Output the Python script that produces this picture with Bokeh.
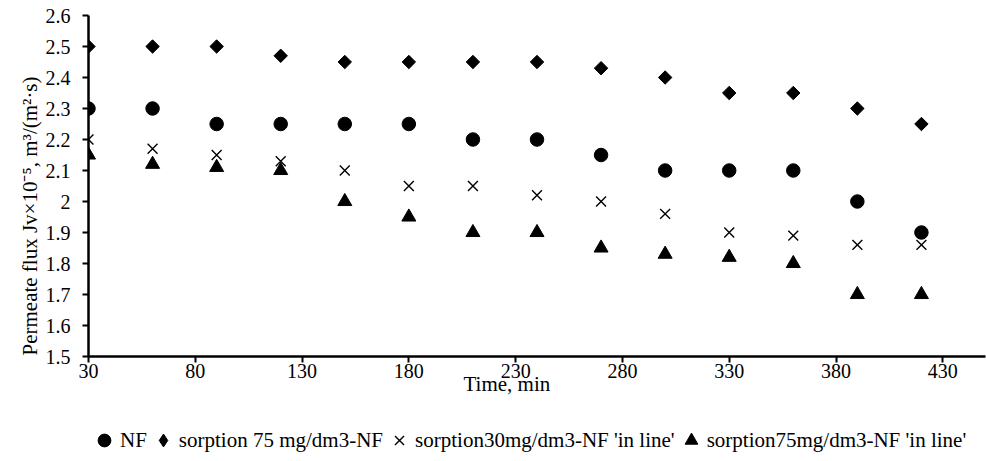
import numpy as np
from bokeh.plotting import figure
from bokeh.layouts import column
from bokeh.models import Range1d, Legend, LegendItem, FixedTicker, ColumnDataSource, Title
from bokeh.embed import file_html
from bokeh.resources import INLINE

time_min = [30, 60, 90, 120, 150, 180, 210, 240, 270, 300, 330, 360, 390, 420]
nf = [2.30, 2.30, 2.25, 2.25, 2.25, 2.25, 2.20, 2.20, 2.15, 2.10, 2.10, 2.10, 2.00, 1.90]
sorp75 = [2.50, 2.50, 2.50, 2.47, 2.45, 2.45, 2.45, 2.45, 2.43, 2.40, 2.35, 2.35, 2.30, 2.25]
sorp30_inline = [2.20, 2.17, 2.15, 2.13, 2.10, 2.05, 2.05, 2.02, 2.00, 1.96, 1.90, 1.89, 1.86, 1.86]
sorp75_inline = [2.15, 2.12, 2.11, 2.10, 2.00, 1.95, 1.90, 1.90, 1.85, 1.83, 1.82, 1.80, 1.70, 1.70]

x_ticks = [30, 80, 130, 180, 230, 280, 330, 380, 430]
y_ticks = [1.5, 1.6, 1.7, 1.8, 1.9, 2.0, 2.1, 2.2, 2.3, 2.4, 2.5, 2.6]
y_tick_labels = ["1.5", "1.6", "1.7", "1.8", "1.9", "2", "2.1", "2.2", "2.3", "2.4", "2.5", "2.6"]

labels = ["NF", "sorption 75 mg/dm3-NF", "sorption30mg/dm3-NF 'in line'", "sorption75mg/dm3-NF 'in line'"]
x_title = "Time, min"
y_title = "Permeate flux  Jv\u00d710\u207b\u2075, m\u00b3/(m\u00b2\u00b7s)"

FONT = "Liberation Serif"
FS_TICK = "20px"
FS_TEXT = "21px"

p = figure(frame_width=897, frame_height=341, output_backend="svg", toolbar_location=None,
           x_range=Range1d(30, 450), y_range=Range1d(1.5, 2.6),
           min_border_left=88, min_border_top=15, min_border_right=1, min_border_bottom=60)
p.outline_line_color = None
p.xgrid.visible = False
p.ygrid.visible = False

src = ColumnDataSource(dict(t=time_min, nf=nf, s75=sorp75, s30i=sorp30_inline, s75i=sorp75_inline))

p.scatter("t", "nf", source=src, marker="circle", size=13.5, color="black")
p.scatter("t", "s75", source=src, marker="square", size=9.5, angle=np.pi / 4, color="black")
p.scatter("t", "s30i", source=src, marker="x", size=14, line_color="black", line_width=1.4)
p.scatter("t", "s75i", source=src, marker="triangle", size=14, color="black")

for ax in (p.xaxis[0], p.yaxis[0]):
    ax.axis_line_width = 2.5
    ax.axis_line_color = "black"
    ax.major_tick_line_width = 2
    ax.major_tick_line_color = "black"
    ax.major_tick_out = 6
    ax.major_tick_in = 0
    ax.minor_tick_out = 0
    ax.minor_tick_in = 0
    ax.major_label_text_font = FONT
    ax.major_label_text_font_size = FS_TICK
    ax.major_label_text_color = "black"

p.xaxis.ticker = FixedTicker(ticks=x_ticks)
p.yaxis.ticker = FixedTicker(ticks=y_ticks)
p.yaxis.major_label_overrides = {v: s for v, s in zip(y_ticks, y_tick_labels)}
p.xaxis.major_label_standoff = 1
p.yaxis.major_label_standoff = 12

p.add_layout(Title(text=y_title, align="left", offset=1, standoff=2,
                   text_font=FONT, text_font_size=FS_TEXT, text_font_style="normal",
                   text_color="black"), "left")
p.add_layout(Title(text=x_title, align="left", offset=375, standoff=-20, vertical_align="middle",
                   text_font=FONT, text_font_size=FS_TEXT, text_font_style="normal",
                   text_color="black"), "below")

# legend strip under the chart: its key renderers share the chart data, but the strip's
# ranges keep those points out of view, so only the legend keys show
lg = figure(width=986, height=45, output_backend="svg", toolbar_location=None,
            x_axis_type=None, y_axis_type=None, x_range=Range1d(0, 1), y_range=Range1d(0, 1),
            min_border_left=0, min_border_right=0, min_border_top=0, min_border_bottom=0)
lg.outline_line_color = None
k1 = lg.scatter("t", "nf", source=src, marker="circle", size=13, color="black")
k2 = lg.scatter("t", "s75", source=src, marker="diamond", size=13, color="black")
k3 = lg.scatter("t", "s30i", source=src, marker="x", size=13, line_color="black", line_width=1.4)
k4 = lg.scatter("t", "s75i", source=src, marker="triangle", size=13, color="black")

legend = Legend(items=[LegendItem(label=lab, renderers=[r]) for lab, r in zip(labels, [k1, k2, k3, k4])],
                orientation="horizontal", location=(0, 5),
                label_text_font=FONT, label_text_font_size=FS_TEXT, label_text_color="black",
                glyph_width=32, glyph_height=32, label_standoff=0, spacing=0,
                border_line_color=None, background_fill_alpha=0, padding=0, margin=0)
lg.add_layout(legend, "center")

layout = column(p, lg, spacing=0)
open("out.html", "w").write(file_html(layout, INLINE))
